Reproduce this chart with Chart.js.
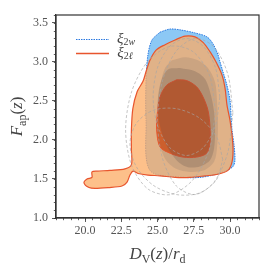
<!DOCTYPE html>
<html>
<head>
<meta charset="utf-8">
<script src="https://cdn.jsdelivr.net/npm/chart.js@4"></script>
<style>
  html, body { margin: 0; padding: 0; background: #fff; }
  canvas { display: block; }
</style>
</head>
<body>
<canvas id="canvas1" width="273" height="273"></canvas>
<script>
// axis ticks
const xTicks = [20.0, 22.5, 25.0, 27.5, 30.0];
const yTicks = [1.0, 1.5, 2.0, 2.5, 3.0, 3.5];

// contour outlines [D_V/r_d, F_ap]
const blueOuter = [
    [25.17, 3.38], [25.86, 3.42], [26.55, 3.41], [27.59, 3.37], [28.41, 3.32], [28.83, 3.23],
    [29.17, 3.09], [29.31, 3.00], [29.52, 2.87], [29.79, 2.70], [30.00, 2.51], [30.07, 2.32],
    [30.14, 2.13], [30.28, 1.93], [30.34, 1.74], [30.21, 1.66], [29.66, 1.60], [28.83, 1.55],
    [27.93, 1.52], [26.90, 1.52], [24.48, 1.61], [24.21, 2.25], [24.21, 2.77], [24.34, 3.09],
    [24.62, 3.28]
];
const orangeOuter = [
    [24.20, 2.87], [24.48, 3.02], [24.90, 3.15], [25.52, 3.22], [26.21, 3.28], [26.90, 3.33],
    [27.59, 3.32], [28.14, 3.25], [28.62, 3.13], [29.03, 3.00], [29.45, 2.83], [29.66, 2.66],
    [29.79, 2.45], [30.00, 2.25], [30.14, 2.06], [30.21, 1.87], [30.14, 1.72], [29.86, 1.61],
    [29.17, 1.56], [28.28, 1.54], [27.24, 1.52], [26.21, 1.52], [25.17, 1.54], [24.34, 1.55],
    [23.66, 1.57], [23.31, 1.60], [23.10, 1.55], [22.90, 1.46], [22.55, 1.41], [21.59, 1.39],
    [20.69, 1.38], [20.28, 1.39], [19.93, 1.45], [20.14, 1.50], [20.48, 1.52], [20.48, 1.59],
    [20.83, 1.60], [21.72, 1.61], [22.76, 1.63], [23.20, 1.68], [23.20, 1.87], [23.20, 2.13],
    [23.30, 2.40], [23.60, 2.62], [24.00, 2.75]
];
const grayOuter = [
    [26.00, 3.02], [26.90, 3.06], [27.79, 3.02], [28.48, 2.92], [28.97, 2.74], [29.10, 2.51],
    [29.17, 2.19], [29.10, 1.89], [28.90, 1.72], [28.21, 1.61], [27.24, 1.59], [26.28, 1.63],
    [25.59, 1.74], [25.17, 1.93], [24.97, 2.19], [25.03, 2.51], [25.24, 2.74], [25.52, 2.92]
];
const redInner = [
    [26.32, 2.77], [27.01, 2.76], [27.70, 2.68], [28.14, 2.55], [28.48, 2.38], [28.62, 2.17],
    [28.62, 1.96], [28.39, 1.83], [27.70, 1.78], [26.76, 1.78], [25.86, 1.83], [25.17, 1.91],
    [24.94, 2.13], [24.99, 2.34], [25.17, 2.55], [25.63, 2.70]
];
const grayInner = [
    [26.55, 2.92], [27.59, 2.88], [28.28, 2.78], [28.69, 2.57], [28.90, 2.36], [28.97, 2.13],
    [28.90, 1.89], [28.62, 1.74], [27.93, 1.66], [27.10, 1.65], [26.55, 1.70], [26.05, 1.80],
    [25.50, 1.98], [25.10, 2.25], [25.02, 2.50], [25.22, 2.74], [25.70, 2.90]
];

// dashed grey ellipses
const ellipseA = [
    [29.00, 2.37], [28.58, 2.83], [27.45, 3.13], [25.90, 3.20], [24.35, 3.01], [23.22, 2.62],
    [22.80, 2.13], [23.22, 1.67], [24.35, 1.37], [25.90, 1.30], [27.45, 1.49], [28.58, 1.88]
];
const ellipseB = [
    [30.20, 2.35], [29.85, 2.84], [28.90, 3.19], [27.60, 3.30], [26.30, 3.14], [25.35, 2.76],
    [25.00, 2.25], [25.35, 1.76], [26.30, 1.41], [27.60, 1.30], [28.90, 1.46], [29.85, 1.84]
];
const ellipseC = [
    [29.50, 1.75], [29.07, 2.04], [27.90, 2.28], [26.30, 2.40], [24.70, 2.38], [23.53, 2.21],
    [23.10, 1.95], [23.53, 1.66], [24.70, 1.42], [26.30, 1.30], [27.90, 1.32], [29.07, 1.49]
];
const ellipseD = [
    [29.30, 2.55], [28.99, 2.93], [28.15, 3.20], [27.00, 3.30], [25.85, 3.20], [25.01, 2.93],
    [24.70, 2.55], [25.01, 2.18], [25.85, 1.90], [27.00, 1.80], [28.15, 1.90], [28.99, 2.18]
];

const serif = "'Liberation Serif', 'DejaVu Serif', serif";

function closed(pts) {
    const out = pts.map(p => ({ x: p[0], y: p[1] }));
    out.push({ x: pts[0][0], y: pts[0][1] });
    return out;
}

function shape(pts, fillColor, lineColor, lineWidth, order, dash) {
    return {
        data: closed(pts),
        showLine: true,
        fill: 'shape',
        backgroundColor: fillColor,
        borderColor: lineColor,
        borderWidth: lineWidth,
        borderDash: dash || [],
        pointRadius: 0,
        tension: 0.3,
        order: order
    };
}

// text with sub-scripts, parts = [text, style]; style 'i' italic, 'r' roman, 'si' / 'sr' subscript
function drawMath(ctx, parts, x, y, size) {
    const subSize = Math.round(size * 0.68);
    const fontFor = s => (s.endsWith('i') ? 'italic ' : '') + (s[0] === 's' ? subSize : size) + 'px ' + serif;
    let width = 0;
    parts.forEach(p => { ctx.font = fontFor(p[1]); width += ctx.measureText(p[0]).width; });
    let cx = x - width / 2;
    parts.forEach(p => {
        ctx.font = fontFor(p[1]);
        ctx.fillText(p[0], cx, p[1][0] === 's' ? y + size * 0.22 : y);
        cx += ctx.measureText(p[0]).width;
    });
}

const extras = {
    id: 'extras',
    afterDraw(chart) {
        const ctx = chart.ctx;
        const area = chart.chartArea;
        const xs = chart.scales.x, ys = chart.scales.y;
        ctx.save();

        // frame
        ctx.strokeStyle = '#333';
        ctx.lineWidth = 1.2;
        ctx.strokeRect(area.left, area.top, area.right - area.left, area.bottom - area.top);

        // minor ticks
        ctx.lineWidth = 0.8;
        ctx.beginPath();
        for (let i = 36; i <= 64; i++) {
            const px = Math.round(xs.getPixelForValue(i * 0.5)) + 0.5;
            ctx.moveTo(px, area.bottom);
            ctx.lineTo(px, area.bottom + 2.2);
        }
        for (let i = 10; i <= 36; i++) {
            const py = Math.round(ys.getPixelForValue(i / 10)) + 0.5;
            ctx.moveTo(area.left, py);
            ctx.lineTo(area.left - 2.2, py);
        }
        ctx.stroke();

        // legend
        ctx.lineWidth = 1;
        ctx.strokeStyle = '#2a78e0';
        ctx.setLineDash([1.5, 1]);
        ctx.beginPath(); ctx.moveTo(76, 39.5); ctx.lineTo(109, 39.5); ctx.stroke();
        ctx.setLineDash([]);
        ctx.strokeStyle = '#e8552d';
        ctx.lineWidth = 1.4;
        ctx.beginPath(); ctx.moveTo(76, 53.5); ctx.lineTo(109, 53.5); ctx.stroke();

        ctx.fillStyle = '#444';
        ctx.textBaseline = 'middle';
        drawMath(ctx, [['ξ', 'i'], ['2', 'sr'], ['w', 'si']], 126, 39, 15);
        drawMath(ctx, [['ξ', 'i'], ['2', 'sr'], ['ℓ', 'si']], 125, 53, 15);

        // axis titles
        ctx.textBaseline = 'alphabetic';
        drawMath(ctx, [['D', 'i'], ['V', 'sr'], ['(', 'r'], ['z', 'i'], [')/', 'r'], ['r', 'i'], ['d', 'sr']],
            (area.left + area.right) / 2, 259, 17);
        ctx.translate(22, (area.top + area.bottom) / 2);
        ctx.rotate(-Math.PI / 2);
        drawMath(ctx, [['F', 'i'], ['ap', 'sr'], ['(', 'r'], ['z', 'i'], [')', 'r']], 0, 0, 17);
        ctx.restore();
    }
};

const tickFont = { family: serif, size: 12 };
const ellipseLine = 'rgba(165,165,165,0.8)';

new Chart(document.getElementById('canvas1'), {
    type: 'scatter',
    data: {
        datasets: [
            shape(ellipseA, 'rgba(0,0,0,0)', ellipseLine, 0.8, 0, [3, 2]),
            shape(ellipseB, 'rgba(0,0,0,0)', ellipseLine, 0.8, 0, [3, 2]),
            shape(ellipseC, 'rgba(0,0,0,0)', ellipseLine, 0.8, 0, [3, 2]),
            shape(ellipseD, 'rgba(0,0,0,0)', ellipseLine, 0.8, 0, [3, 2]),
            shape(grayInner, 'rgba(80,70,70,0.22)', 'rgba(0,0,0,0)', 0, 1),
            shape(redInner, 'rgba(205,85,32,0.87)', '#e8552d', 1, 2),
            shape(grayOuter, 'rgba(110,100,100,0.18)', 'rgba(0,0,0,0)', 0, 3),
            shape(orangeOuter, 'rgba(252,171,99,0.75)', '#e8552d', 1.2, 4),
            shape(blueOuter, 'rgb(140,200,245)', '#2a78e0', 1, 5, [1.5, 1])
        ]
    },
    options: {
        responsive: false,
        animation: false,
        layout: { padding: { top: 15, right: 14, left: 0, bottom: 0 } },
        plugins: {
            legend: { display: false },
            tooltip: { enabled: false }
        },
        scales: {
            x: {
                type: 'linear',
                min: 18,
                max: 32,
                afterBuildTicks: axis => { axis.ticks = xTicks.map(v => ({ value: v })); },
                afterFit: axis => { axis.height = 55; },
                grid: { drawOnChartArea: false, tickLength: 4, tickColor: '#333', tickWidth: 0.8 },
                border: { color: '#333', width: 1.2 },
                ticks: {
                    font: tickFont,
                    color: '#555',
                    padding: 2,
                    maxRotation: 0,
                    callback: v => v.toFixed(1)
                }
            },
            y: {
                type: 'linear',
                min: 1.0,
                max: 3.6,
                afterBuildTicks: axis => { axis.ticks = yTicks.map(v => ({ value: v })); },
                afterFit: axis => { axis.width = 56; },
                grid: { drawOnChartArea: false, tickLength: 4, tickColor: '#333', tickWidth: 0.8 },
                border: { color: '#333', width: 1.2 },
                ticks: {
                    font: tickFont,
                    color: '#555',
                    padding: 4,
                    callback: v => v.toFixed(1)
                }
            }
        }
    },
    plugins: [extras]
});
</script>
</body>
</html>
